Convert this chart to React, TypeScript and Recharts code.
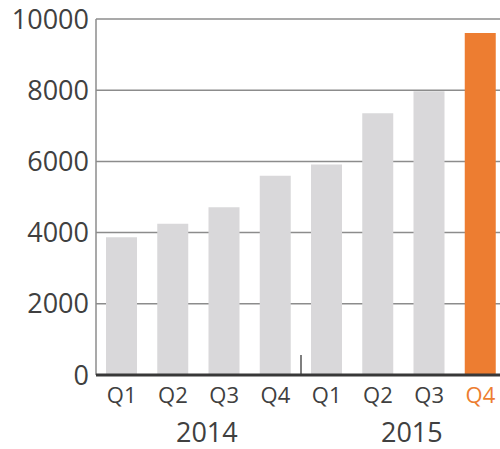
import React from 'react';
import { BarChart, Bar, XAxis, YAxis, CartesianGrid, Cell, ReferenceLine } from 'recharts';

const categories = ['2014-Q1', '2014-Q2', '2014-Q3', '2014-Q4', '2015-Q1', '2015-Q2', '2015-Q3', '2015-Q4'];
const quarterLabels = ['Q1', 'Q2', 'Q3', 'Q4', 'Q1', 'Q2', 'Q3', 'Q4'];
const values = [3870, 4250, 4710, 5600, 5910, 7350, 7970, 9610];
const yTicks = [0, 2000, 4000, 6000, 8000, 10000];
const yearLabels = ['2014', '2015'];
const yearLabelTickIndex = [1, 5];
const highlightIndex = 7;
const yearSeparatorCategory = '2015-Q1';

const GREY = '#d9d8da';
const ORANGE = '#ed7d31';
const TEXT = '#404040';
const GRID = '#8c8c8c';
const FONT = '"Open Sans", sans-serif';

const data = categories.map((c, i) => ({ key: c, value: values[i] }));

const QuarterTick = (props: any) => {
  const { x, y, index } = props;
  const color = index === highlightIndex ? ORANGE : TEXT;
  const yi = yearLabelTickIndex.indexOf(index);
  return (
    <g>
      <text x={x} y={y} dy={20} textAnchor="middle" fill={color} fontSize={22} fontFamily={FONT}>
        {quarterLabels[index]}
      </text>
      {yi >= 0 && (
        <text x={x + 34} y={y} dy={59} textAnchor="middle" fill={TEXT} fontSize={27} fontFamily={FONT}>
          {yearLabels[yi]}
        </text>
      )}
    </g>
  );
};

export default function App() {
  return (
    <div style={{ position: 'fixed', left: 0, top: 0, width: 500, height: 449, overflow: 'hidden', background: '#fff' }}>
      <BarChart
        width={510}
        height={449}
        data={data}
        margin={{ top: 19, right: 4, bottom: 0, left: 0 }}
        style={{ fontFamily: FONT }}
      >
        <CartesianGrid vertical={false} stroke={GRID} strokeWidth={1.5} />
        <YAxis
          width={96}
          domain={[0, 10000]}
          ticks={yTicks}
          interval={0}
          tickLine={false}
          tickSize={0}
          tickMargin={7}
          axisLine={{ stroke: GRID, strokeWidth: 1.5 }}
          tick={{ fill: TEXT, fontSize: 27, fontFamily: FONT }}
        />
        <XAxis
          dataKey="key"
          height={74}
          interval={0}
          tickLine={false}
          tickSize={0}
          tickMargin={8}
          axisLine={{ stroke: '#383838', strokeWidth: 3 }}
          tick={<QuarterTick />}
        />
        <Bar dataKey="value" barSize={31} isAnimationActive={false}>
          {data.map((d, i) => (
            <Cell key={d.key} fill={i === highlightIndex ? ORANGE : GREY} />
          ))}
        </Bar>
        <ReferenceLine
          segment={[
            { x: yearSeparatorCategory, y: 0 },
            { x: yearSeparatorCategory, y: 560 },
          ]}
          position="start"
          stroke="#555"
          strokeWidth={1.5}
        />
      </BarChart>
    </div>
  );
}
